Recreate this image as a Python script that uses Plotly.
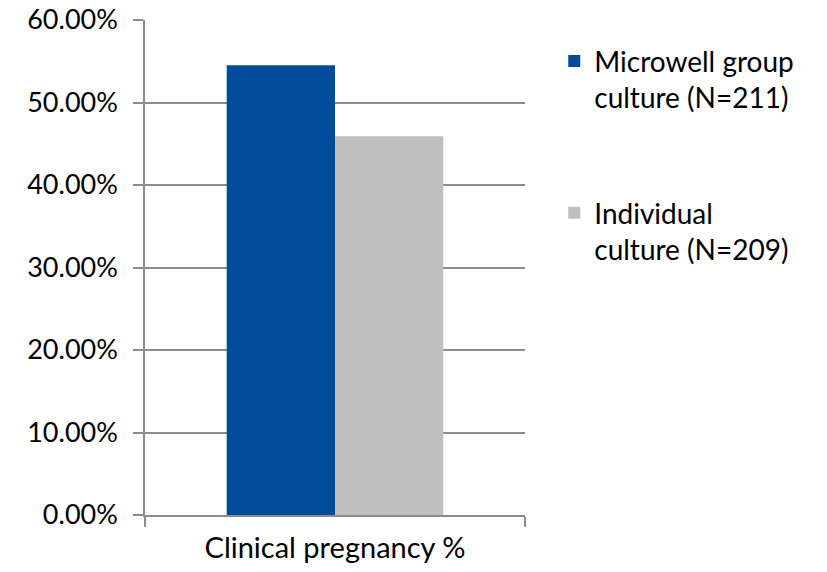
import plotly.graph_objects as go

categories = ["Clinical pregnancy %"]
series_names = ["Microwell group<br>culture (N=211)", "Individual<br>culture (N=209)"]
microwell_rate = [0.545]
individual_rate = [0.459]
colors = ["#004B9B", "#BFBFBF"]

FONT = "Lato"
GRID = "#8C8C8C"

fig = go.Figure()
for name, vals, col, grp in zip(series_names, [microwell_rate, individual_rate], colors, ["a", "b"]):
    fig.add_trace(go.Bar(
        x=categories, y=vals, name=name, marker_color=col,
        marker_line_width=0, legendgroup=grp,
    ))

fig.update_layout(
    width=827, height=572,
    margin=dict(l=145, r=302, t=20, b=57, autoexpand=False),
    paper_bgcolor="white", plot_bgcolor="white",
    barmode="group", bargap=0.43, bargroupgap=0,
    font=dict(family=FONT, size=28, color="#000000"),
    legend=dict(
        x=1.077, xanchor="left", y=0.967, yanchor="top",
        valign="top", tracegroupgap=76,
        font=dict(family=FONT, size=28, color="#000000"),
        bgcolor="rgba(0,0,0,0)",
    ),
    showlegend=True,
)
fig.update_yaxes(
    range=[0, 0.6], dtick=0.1, tickformat=".2%",
    showgrid=True, gridcolor=GRID, gridwidth=1.5,
    showline=True, linecolor=GRID, linewidth=1.5,
    ticks="outside", ticklen=10, tickcolor=GRID, tickwidth=1.5,
    ticklabelstandoff=10, tickfont=dict(size=27),
    zeroline=False, fixedrange=True, automargin=False,
)
fig.update_xaxes(
    showline=True, linecolor=GRID, linewidth=1.5,
    ticks="outside", ticklen=10, tickcolor=GRID, tickwidth=1.5,
    tickson="boundaries", showgrid=False, automargin=False,
    ticklabelstandoff=6, tickfont=dict(size=29),
)

fig.write_html("out.html")
